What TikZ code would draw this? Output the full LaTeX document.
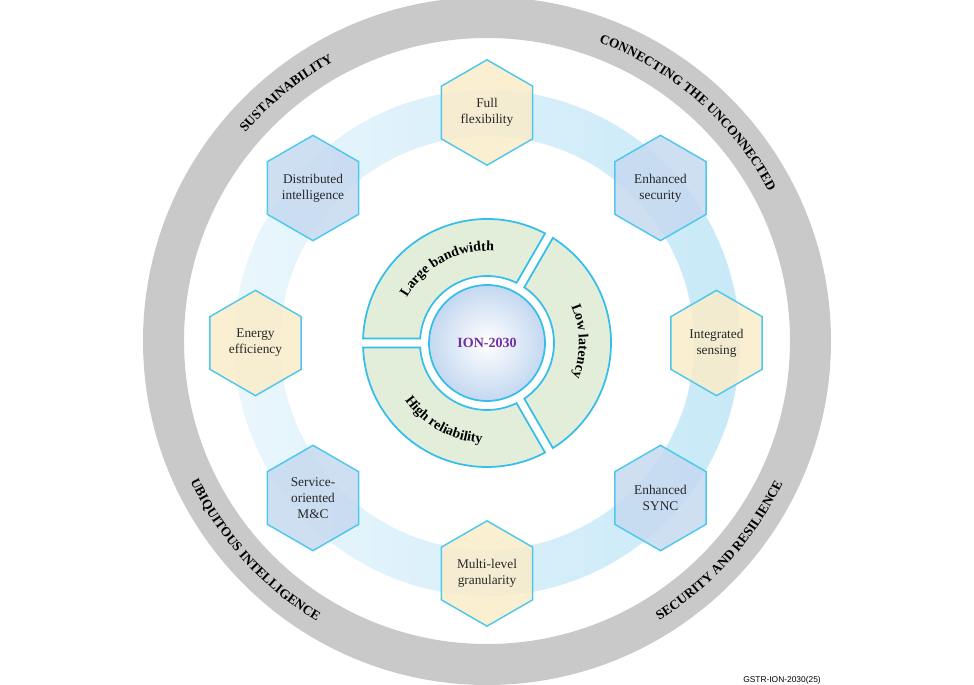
\documentclass[tikz,border=0pt]{standalone}
\usepackage{fontspec}
\setmainfont{Liberation Serif}
\newfontfamily\footfont{Liberation Sans}
\usetikzlibrary{shapes.geometric,decorations.text}
\definecolor{cyanline}{RGB}{78,200,236}
\definecolor{sectorline}{RGB}{52,190,234}
\definecolor{hexyellow}{RGB}{250,236,202}
\definecolor{hexblue}{RGB}{198,217,240}
\definecolor{sectorgreen}{RGB}{227,238,218}
\definecolor{ringgray}{RGB}{201,201,201}
\definecolor{banddark}{RGB}{200,233,248}
\definecolor{bandlight}{RGB}{234,246,252}
\definecolor{ionpurple}{RGB}{112,48,160}
\definecolor{ionedge}{RGB}{196,216,240}
\definecolor{hextext}{RGB}{40,40,40}
\newcommand\seclabelfont{\bfseries\fontsize{10.5}{12}\selectfont}
\newcommand\ringlabelfont{\bfseries\fontsize{10}{12}\selectfont}
\begin{document}
\begin{tikzpicture}[x=0.75pt,y=0.75pt,
  hexbox/.style={regular polygon, regular polygon sides=6, shape border rotate=30,
    minimum size=79pt, inner sep=0pt, draw=cyanline, line width=1.1pt,
    fill opacity=0.85, text opacity=1, align=center,
    font=\fontsize{10}{12}\selectfont, text=hextext},
  hexy/.style={hexbox, fill=hexyellow},
  hexb/.style={hexbox, fill=hexblue},
  sector/.style={draw=sectorline, line width=1.3pt, fill=sectorgreen},
]
\useasboundingbox (-487,-342) rectangle (487,343);

% outer gray ring
\fill[ringgray, even odd rule] (0,2) circle[radius=344] (0,2) circle[radius=303];

% light blue band
\shade[even odd rule, left color=bandlight, right color=banddark]
  (0,0) circle[radius=253] (0,0) circle[radius=207];

% hexagons
\node[hexy] (flex) at (0,230.5) {Full\\flexibility};
\node[hexb] (sec)  at (173.5,155) {Enhanced\\security};
\node[hexy] (sens) at (229.5,0) {Integrated\\sensing};
\node[hexb] (sync) at (173.5,-155) {Enhanced\\SYNC};
\node[hexy] (gran) at (0,-230.5) {Multi-level\\granularity};
\node[hexb] (mc)   at (-174,-155) {Service-\\oriented\\M\&C};
\node[hexy] (ener) at (-231.5,0) {Energy\\efficiency};
\node[hexb] (dist) at (-174,155) {Distributed\\intelligence};

% three sectors
\draw[sector] (62.08:124) arc[start angle=62.08, end angle=177.92, radius=124]
  -- (176.15:67) arc[start angle=176.15, end angle=63.85, radius=67] -- cycle;
\draw[sector] (-57.92:124) arc[start angle=-57.92, end angle=57.92, radius=124]
  -- (56.15:67) arc[start angle=56.15, end angle=-56.15, radius=67] -- cycle;
\draw[sector] (182.08:124) arc[start angle=182.08, end angle=297.92, radius=124]
  -- (296.15:67) arc[start angle=296.15, end angle=183.85, radius=67] -- cycle;

% centre
\node[circle, minimum size=87pt, inner sep=0pt, draw=sectorline, line width=1.3pt,
  inner color=white, outer color=ionedge, text=ionpurple,
  font=\bfseries\fontsize{10.5}{12}\selectfont] (ion) at (0,0) {ION-2030};

% sector labels
\path[decorate, decoration={text along path, text align=center,
  text={|\seclabelfont|Large bandwidth}}]
  (158:92) arc[start angle=158, end angle=78, radius=92];
\path[decorate, decoration={text along path, text align=center,
  text={|\seclabelfont|Low latency}}]
  (41:92) arc[start angle=41, end angle=-39, radius=92];
\path[decorate, decoration={text along path, text align=center,
  text={|\seclabelfont|High reliability}}]
  (201:100) arc[start angle=201, end angle=281, radius=100];

% ring labels
\path[decorate, decoration={text along path, text align=center,
  text={|\ringlabelfont|SUSTAINABILITY}}]
  ([shift={(0,2)}]164:319) arc[start angle=164, end angle=94, radius=319];
\path[decorate, decoration={text along path, text align=center,
  text={|\ringlabelfont|CONNECTING THE UNCONNECTED}}]
  ([shift={(0,2)}]98.7:319) arc[start angle=98.7, end angle=-1.3, radius=319];
\path[decorate, decoration={text along path, text align=center,
  text={|\ringlabelfont|UBIQUITOUS INTELLIGENCE}}]
  ([shift={(0,2)}]177:328) arc[start angle=177, end angle=267, radius=328];
\path[decorate, decoration={text along path, text align=center,
  text={|\ringlabelfont|SECURITY AND RESILIENCE}}]
  ([shift={(0,2)}]273:328) arc[start angle=273, end angle=363, radius=328];

% figure code
\node[font=\footfont\fontsize{6.3}{7}\selectfont, anchor=base west, inner sep=0pt]
  (code) at (256,-339) {GSTR-ION-2030(25)};
\end{tikzpicture}
\end{document}
